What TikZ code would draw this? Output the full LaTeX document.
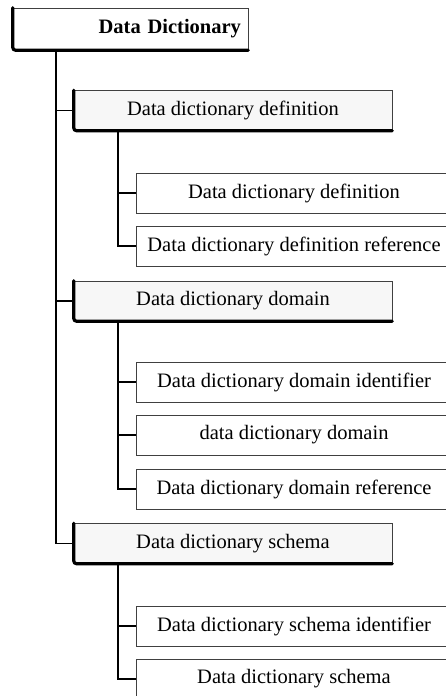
\documentclass[tikz,border=0pt]{standalone}
\usepackage{fontspec}
\setmainfont{Liberation Serif}
\begin{document}
\begin{tikzpicture}[x=1pt,y=-1pt,
  box/.style={draw=black!75, line width=0.6pt, inner sep=0pt, font=\fontsize{20.5}{24}\selectfont},
  headbox/.style={box, fill=black!3, minimum width=318pt, minimum height=40pt},
  leafbox/.style={box, fill=white, minimum width=316pt, minimum height=40pt},
  heavy/.style={line width=3.2pt, rounded corners=3pt, line cap=round},
  link/.style={line width=1.5pt}]
\useasboundingbox (0,0) rectangle (446,696);
\clip (0,0) rectangle (446,696);
\fill[white] (0,0) rectangle (446,696);

% root
\node[box, fill=white, minimum width=235pt, minimum height=42pt, text width=221pt,
      inner xsep=7pt, align=right, font=\fontsize{20.5}{24}\selectfont\bfseries]
      (root) at (130.5,29) {Data Dictionary};

% first level
\node[headbox] (def) at (233,110.5) {Data dictionary definition};
\node[headbox] (dom) at (233,301) {Data dictionary domain};
\node[headbox] (sch) at (233,543.5) {Data dictionary schema};

% second level
\node[leafbox] (d1) at (294,193) {Data dictionary definition};
\node[leafbox] (d2) at (294,246) {Data dictionary definition reference};
\node[leafbox] (m1) at (294,382) {Data dictionary domain identifier};
\node[leafbox] (m2) at (294,435) {data dictionary domain};
\node[leafbox] (m3) at (294,489) {Data dictionary domain reference};
\node[leafbox] (s1) at (294,626) {Data dictionary schema identifier};
\node[leafbox] (s2) at (294,679) {Data dictionary schema};

% thick left and bottom edges of the heading boxes
\foreach \n in {root,def,dom,sch}
  \draw[heavy] (\n.north west) -- (\n.south west) -- (\n.south east);

% main trunk
\coordinate (t0) at (56,50);
\draw[link] (t0) |- (sch.west);
\draw[link] (t0 |- def.west) -- (def.west);
\draw[link] (t0 |- dom.west) -- (dom.west);

% branches
\foreach \p/\a/\b in {def/d1/d2, dom/m1/m3, sch/s1/s2}{
  \coordinate (b\p) at (118,0 |- \p.south);
  \draw[link] (b\p |- \p.south) |- (\b.west);
  \draw[link] (b\p |- \a.west) -- (\a.west);
}
\draw[link] (118,0 |- m2.west) -- (m2.west);
\end{tikzpicture}
\end{document}
